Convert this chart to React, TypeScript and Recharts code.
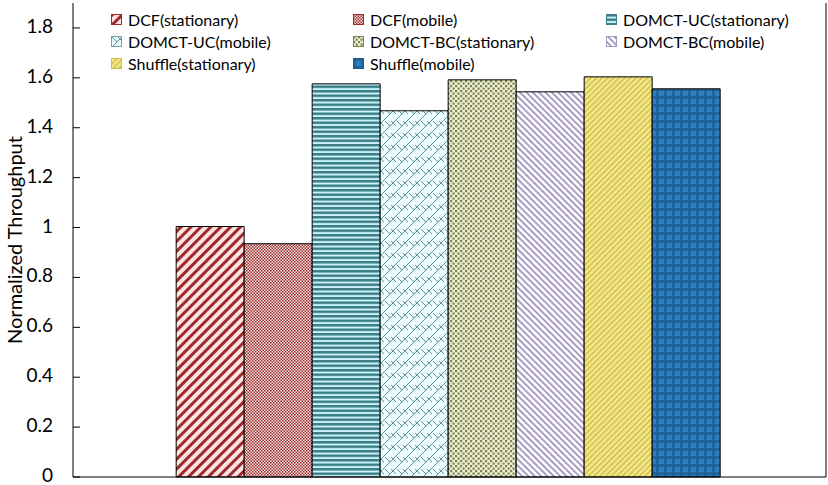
import React from 'react';
import { BarChart, Bar, XAxis, YAxis } from 'recharts';

const seriesNames = [
  'DCF(stationary)',
  'DCF(mobile)',
  'DOMCT-UC(stationary)',
  'DOMCT-UC(mobile)',
  'DOMCT-BC(stationary)',
  'DOMCT-BC(mobile)',
  'Shuffle(stationary)',
  'Shuffle(mobile)',
];
const seriesValues = [1.004, 0.935, 1.576, 1.468, 1.592, 1.544, 1.604, 1.556];
const yTicks = [0, 0.2, 0.4, 0.6, 0.8, 1, 1.2, 1.4, 1.6, 1.8];

const patternIds = ['p0', 'p1', 'p2', 'p3', 'p4', 'p5', 'p6', 'p7'];
const iconStroke = ['#9e2a2b', '#9b2d2d', '#3b7d86', '#7a9aa0', '#7f8350', '#a699bf', '#cfc04a', '#1d5f94'];

const FONT = 'Lato, "Open Sans", sans-serif';

const chartData = [
  seriesNames.reduce((row: any, name, i) => {
    row['s' + i] = seriesValues[i];
    return row;
  }, { name: 'all' }),
];

// fill patterns, ids are global in the document
const Patterns = () => (
  <svg width={0} height={0} style={{ position: 'absolute' }}>
    <defs>
      <pattern id="p0" width={7} height={7} patternUnits="userSpaceOnUse" patternTransform="rotate(45)">
        <rect width={7} height={7} fill="#fde3e3" />
        <rect width={3} height={7} fill="#9e2a2b" />
      </pattern>
      <pattern id="p1" width={3} height={3} patternUnits="userSpaceOnUse">
        <rect width={3} height={3} fill="#f7e2e2" />
        <rect width={1.5} height={1.5} fill="#9b2d2d" />
        <rect x={1.5} y={1.5} width={1.5} height={1.5} fill="#9b2d2d" />
      </pattern>
      <pattern id="p2" width={4.5} height={4.5} patternUnits="userSpaceOnUse">
        <rect width={4.5} height={4.5} fill="#c9f3f6" />
        <rect width={4.5} height={2.5} fill="#3b7d86" />
      </pattern>
      <pattern id="p3" width={12} height={12} patternUnits="userSpaceOnUse">
        <rect width={12} height={12} fill="#effcfd" />
        <path d="M0 12 L12 0 M6 6 L1 1 M0 6 L-6 0 M12 6 L7 1" stroke="#5a949c" strokeWidth={1} fill="none" />
      </pattern>
      <pattern id="p4" width={5} height={5} patternUnits="userSpaceOnUse">
        <rect width={5} height={5} fill="#eef0d6" />
        <rect width={2.2} height={2.2} fill="#7f8350" />
        <rect x={2.5} y={2.5} width={2.2} height={2.2} fill="#7f8350" />
      </pattern>
      <pattern id="p5" width={4.5} height={4.5} patternUnits="userSpaceOnUse" patternTransform="rotate(-45)">
        <rect width={4.5} height={4.5} fill="#fbfaff" />
        <rect width={1.8} height={4.5} fill="#a699bf" />
      </pattern>
      <pattern id="p6" width={4} height={4} patternUnits="userSpaceOnUse" patternTransform="rotate(45)">
        <rect width={4} height={4} fill="#f5ea90" />
        <rect width={1.6} height={4} fill="#cfc04a" />
      </pattern>
      <pattern id="p7" width={8} height={8} patternUnits="userSpaceOnUse">
        <rect width={8} height={8} fill="#2c7fc0" />
        <rect width={8} height={3} fill="#1d5f94" opacity={0.8} />
        <rect width={3} height={8} fill="#1d5f94" opacity={0.8} />
      </pattern>
    </defs>
  </svg>
);

const YTick = (props: any) => {
  const { x, y, payload } = props;
  return (
    <g>
      <line x1={x + 20} x2={x + 27} y1={y} y2={y} stroke="#000" />
      <text x={x} y={y} dy={5} textAnchor="end" fontSize={19} fontFamily={FONT} fill="#000">
        {payload.value}
      </text>
    </g>
  );
};

const colLeft = [0, 242, 495];

// legend laid over the plot, it does not take space from it
const LegendBox = () => (
  <div
    style={{
      position: 'absolute',
      left: 111,
      top: 10,
      width: 720,
      height: 66,
      fontFamily: FONT,
      fontSize: 16,
    }}
  >
    {seriesNames.map((name, i) => (
      <div
        key={name}
        style={{
          position: 'absolute',
          left: colLeft[i % 3],
          top: Math.floor(i / 3) * 22,
          display: 'flex',
          alignItems: 'center',
          whiteSpace: 'nowrap',
          lineHeight: '20px',
        }}
      >
        <svg width={12} height={12} style={{ marginRight: 5 }}>
          <rect x={0.5} y={0.5} width={10} height={10} fill={`url(#${patternIds[i]})`} stroke={iconStroke[i]} />
        </svg>
        <span>{name}</span>
      </div>
    ))}
  </div>
);

export default function App() {
  return (
    <div style={{ position: 'absolute', left: 0, top: 0, width: 828, height: 485, background: '#fff' }}>
      <Patterns />
      <BarChart
        width={828}
        height={485}
        data={chartData}
        margin={{ top: 3, right: 0, bottom: 0, left: 0 }}
        barCategoryGap="13.7%"
        barGap={0}
      >
        <XAxis dataKey="name" tick={false} tickLine={false} axisLine={{ stroke: '#000' }} height={8} />
        <XAxis xAxisId="top" dataKey="name" orientation="top" tick={false} tickLine={false} axisLine={{ stroke: '#000' }} height={0} />
        <YAxis
          domain={[0, 1.9]}
          ticks={yTicks}
          tick={<YTick />}
          tickLine={false}
          tickSize={0}
          tickMargin={20}
          axisLine={{ stroke: '#000' }}
          width={73}
          interval={0}
          label={{
            value: 'Normalized Throughput',
            angle: -90,
            position: 'insideLeft',
            dx: 10,
            style: { textAnchor: 'middle', fontSize: 20, fontFamily: FONT, fill: '#000' },
          }}
        />
        <YAxis yAxisId="right" orientation="right" tick={false} tickLine={false} axisLine={{ stroke: '#000' }} width={2} />
        {seriesNames.map((name, i) => (
          <Bar
            key={name}
            dataKey={'s' + i}
            name={name}
            fill={`url(#${patternIds[i]})`}
            stroke="#000"
            strokeWidth={1}
            isAnimationActive={false}
          />
        ))}
      </BarChart>
      <LegendBox />
    </div>
  );
}
